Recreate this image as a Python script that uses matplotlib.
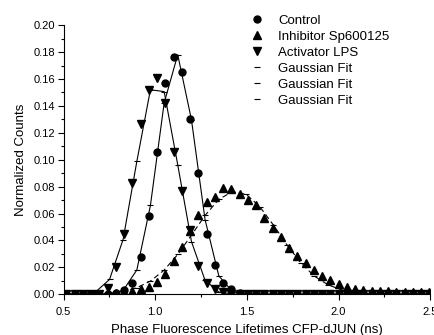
import matplotlib
matplotlib.use("Agg")
import matplotlib.pyplot as plt
from matplotlib.lines import Line2D
from matplotlib.ticker import MultipleLocator, FormatStrFormatter

plt.rcParams['font.family'] = ['Liberation Sans', 'DejaVu Sans']

# lifetime bins (ns)
lifetimes = [0.515, 0.56, 0.605, 0.65, 0.695, 0.74, 0.785, 0.83, 0.875, 0.92,
             0.965, 1.01, 1.055, 1.1, 1.145, 1.19, 1.235, 1.28, 1.325, 1.37,
             1.415, 1.46, 1.505, 1.55, 1.595, 1.64, 1.685, 1.73, 1.775, 1.82,
             1.865, 1.91, 1.955, 2.0, 2.045, 2.09, 2.135, 2.18, 2.225, 2.27,
             2.315, 2.36, 2.405, 2.45, 2.495]

control = [0.0005, 0.0005, 0.0005, 0.0005, 0.0005, 0.0005, 0.001, 0.003, 0.0086, 0.028,
           0.058, 0.106, 0.157, 0.176, 0.165, 0.13, 0.090, 0.0446, 0.0218, 0.0082,
           0.0037, 0.001, 0, 0, 0, 0, 0, 0, 0, 0,
           0, 0, 0, 0, 0, 0, 0, 0, 0, 0,
           0, 0, 0, 0, 0]

inhibitor = [0.0005, 0.0005, 0.0005, 0.0005, 0.0005, 0.0008, 0.001, 0.0015, 0.0027, 0.0037,
             0.0057, 0.0095, 0.015, 0.0248, 0.0354, 0.047, 0.059, 0.0684, 0.0724, 0.0788,
             0.0783, 0.0746, 0.0703, 0.0664, 0.0565, 0.0495, 0.0425, 0.0345, 0.0286, 0.0235,
             0.018, 0.0135, 0.0108, 0.0078, 0.0057, 0.0040, 0.0032, 0.0027, 0.0025, 0.0022,
             0.002, 0.0018, 0.0017, 0.0016, 0.0015]

activator = [0.0005, 0.0005, 0.0005, 0.0005, 0.0005, 0.0045, 0.020, 0.045, 0.083, 0.1266,
             0.152, 0.161, 0.142, 0.1055, 0.0768, 0.0478, 0.021, 0.0086, 0.0037, 0.0015,
             0.0005, 0, 0, 0, 0, 0, 0, 0, 0, 0,
             0, 0, 0, 0, 0, 0, 0, 0, 0, 0,
             0, 0, 0, 0, 0]

# gaussian fit curves (own grid)
fit_x = [0.527, 0.602, 0.676, 0.751, 0.825, 0.900, 0.974, 1.049, 1.123, 1.198,
         1.272, 1.347, 1.421, 1.496, 1.570, 1.645, 1.719, 1.794, 1.868, 1.943,
         2.017, 2.092, 2.166, 2.241, 2.315, 2.390, 2.464]

control_fit = [0, 0, 0, 0.0003, 0.0028, 0.0181, 0.066, 0.1422, 0.178, 0.1295,
               0.0555, 0.0137, 0.002, 0.0002, 0, 0, 0, 0, 0, 0,
               0, 0, 0, 0, 0, 0, 0]

inhibitor_fit = [0, 0.0001, 0.0003, 0.0009, 0.0021, 0.0049, 0.0098, 0.018, 0.0296, 0.044,
                 0.0586, 0.0705, 0.0763, 0.0743, 0.0652, 0.0514, 0.0367, 0.0234, 0.0135, 0.007,
                 0.0033, 0.0014, 0.0005, 0.0002, 0.0001, 0, 0]

activator_fit = [0, 0.0002, 0.0019, 0.011, 0.0407, 0.0988, 0.152, 0.1506, 0.0962, 0.0391,
                 0.0104, 0.0017, 0.0002, 0, 0, 0, 0, 0, 0, 0,
                 0, 0, 0, 0, 0, 0, 0]

fig = plt.figure(figsize=(4.35, 3.35), dpi=100)
ax = fig.add_axes([0.146, 0.1215, 0.843, 0.8035])

ax.plot(lifetimes, control, 'o', color='k', ms=5, linestyle='none')
ax.plot(lifetimes, inhibitor, '^', color='k', ms=5.8, linestyle='none')
ax.plot(lifetimes, activator, 'v', color='k', ms=5.8, linestyle='none')

ax.plot(fit_x, control_fit, color='k', lw=0.8, marker='_', ms=5, mew=0.8)
ax.plot(fit_x, inhibitor_fit, color='k', lw=0.8, linestyle=(0, (5, 3)), marker='_', ms=5, mew=0.8)
ax.plot(fit_x, activator_fit, color='k', lw=0.8, marker='_', ms=5, mew=0.8)

ax.set_xlim(0.5, 2.5)
ax.set_ylim(0, 0.2)
ax.xaxis.set_major_locator(MultipleLocator(0.5))
ax.xaxis.set_minor_locator(MultipleLocator(0.25))
ax.yaxis.set_major_locator(MultipleLocator(0.02))
ax.yaxis.set_minor_locator(MultipleLocator(0.01))
ax.xaxis.set_major_formatter(FormatStrFormatter('%.1f'))
ax.yaxis.set_major_formatter(FormatStrFormatter('%.2f'))
ax.tick_params(which='major', direction='out', length=4, width=0.8, labelsize=8, pad=2)
ax.tick_params(which='minor', direction='out', length=2.5, width=0.8)
ax.tick_params(axis='x', pad=5)

for side in ['top', 'right']:
    ax.spines[side].set_visible(False)
for side in ['left', 'bottom']:
    ax.spines[side].set_linewidth(0.8)

ax.set_xlabel('Phase Fluorescence Lifetimes CFP-dJUN (ns)', fontsize=9.5, labelpad=5)
ax.set_ylabel('Normalized Counts', fontsize=9.5, labelpad=5)

handles = [
    Line2D([], [], color='k', marker='o', ms=5, linestyle='none'),
    Line2D([], [], color='k', marker='^', ms=5.8, linestyle='none'),
    Line2D([], [], color='k', marker='v', ms=5.8, linestyle='none'),
    Line2D([], [], color='k', marker='_', ms=5, mew=0.8, linestyle='none'),
    Line2D([], [], color='k', marker='_', ms=5, mew=0.8, linestyle='none'),
    Line2D([], [], color='k', marker='_', ms=5, mew=0.8, linestyle='none'),
]
labels = ['Control', 'Inhibitor Sp600125', 'Activator LPS',
          'Gaussian Fit', 'Gaussian Fit', 'Gaussian Fit']
fig.legend(handles, labels, loc='upper left', bbox_to_anchor=(0.5786, 0.957),
           frameon=False, fontsize=9.5, handlelength=0.8, handletextpad=1.2,
           borderpad=0, borderaxespad=0, labelspacing=0.29, numpoints=1)

fig.savefig('out.png', dpi=100)
